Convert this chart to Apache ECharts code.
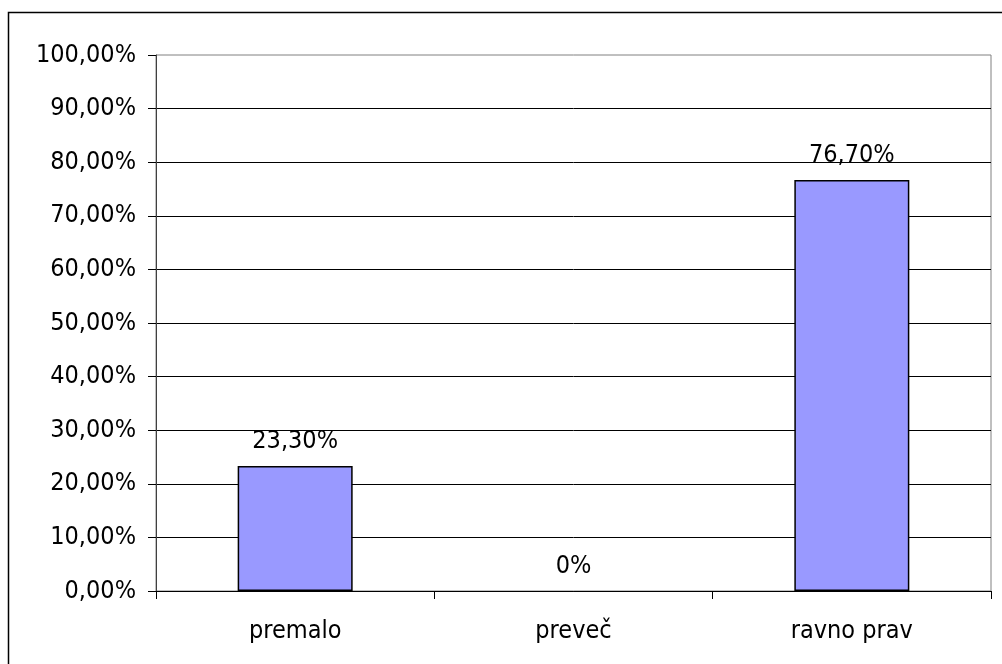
<!DOCTYPE html>
<html>
<head>
<meta charset="utf-8">
<script src="https://cdn.jsdelivr.net/npm/echarts@6/dist/echarts.min.js"></script>
<style>
  html, body { margin: 0; padding: 0; background: #fff; }
  #chart { width: 1002px; height: 664px; }
</style>
</head>
<body>
<div id="chart"></div>
<script>
// Answer categories and their shares (percent)
const categories = ['premalo', 'preveč', 'ravno prav'];
const shares = [23.3, 0, 76.7];

// Value axis range (percent)
const axisMin = 0;
const axisMax = 100;
const axisStep = 10;

const FONT = '"DejaVu Sans Condensed", "DejaVu Sans", sans-serif';
const FONT_SIZE = 25;

function pct(v) {
  return v.toFixed(2).replace('.', ',') + '%';
}
function barLabel(v) {
  return v === 0 ? '0%' : pct(v);
}

// Empty bars get no outline so nothing is drawn along the baseline
const barData = shares.map(v => ({
  value: v,
  itemStyle: { borderWidth: v === 0 ? 0 : 1.5 }
}));

const chart = echarts.init(document.getElementById('chart'), null, { renderer: 'canvas' });

chart.setOption({
  backgroundColor: '#ffffff',
  animation: false,
  graphic: [{
    type: 'rect',
    silent: true,
    shape: { x: 8.5, y: 12.5, width: 1200, height: 1000 },
    style: { fill: 'none', stroke: '#000000', lineWidth: 1.5 }
  }],
  grid: {
    left: 156, right: 11, top: 55, bottom: 73,
    show: true,
    borderColor: '#808080',
    borderWidth: 1,
    backgroundColor: 'transparent'
  },
  xAxis: {
    type: 'category',
    data: categories,
    axisLine: { show: true, lineStyle: { color: '#000000', width: 1 } },
    axisTick: { show: true, length: 8, lineStyle: { color: '#000000', width: 1 } },
    axisLabel: {
      color: '#000000',
      fontFamily: FONT,
      fontSize: FONT_SIZE,
      margin: 28
    }
  },
  yAxis: {
    type: 'value',
    min: axisMin,
    max: axisMax,
    interval: axisStep,
    axisLine: { show: true, lineStyle: { color: '#404040', width: 1 } },
    axisTick: { show: true, length: 8, lineStyle: { color: '#000000', width: 1 } },
    splitLine: { show: true, showMaxLine: false, lineStyle: { color: '#000000', width: 1 } },
    axisLabel: {
      color: '#000000',
      fontFamily: FONT,
      fontSize: FONT_SIZE,
      margin: 20,
      formatter: pct
    }
  },
  series: [{
    type: 'bar',
    data: barData,
    barWidth: 115,
    itemStyle: {
      color: '#9999FF',
      borderColor: '#000000',
      borderWidth: 1.5
    },
    label: {
      show: true,
      position: 'top',
      distance: 12,
      color: '#000000',
      fontFamily: FONT,
      fontSize: FONT_SIZE,
      formatter: p => barLabel(p.value)
    }
  }]
});
</script>
</body>
</html>
